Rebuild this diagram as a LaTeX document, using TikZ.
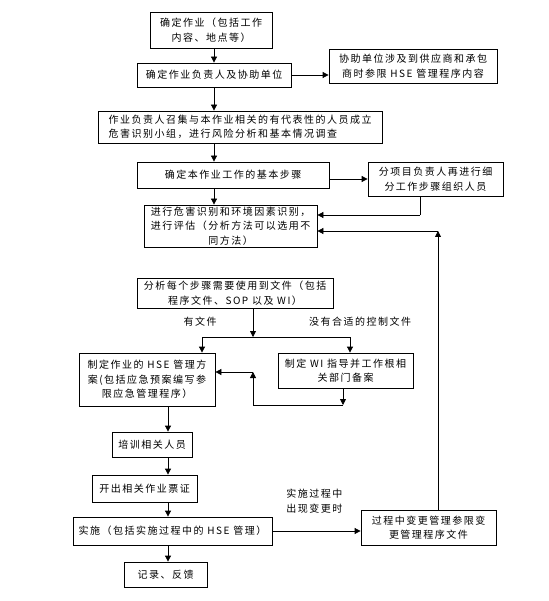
\documentclass[tikz,border=0pt]{standalone}
\usepackage{fontspec}
\setmainfont{Noto Sans CJK SC}[LetterSpace=15]
\usepackage{tikz}
\usetikzlibrary{arrows.meta}

\begin{document}
\begin{tikzpicture}[x=1pt,y=1pt,line width=0.8pt]
\tikzstyle{every node}+=[inner sep=0pt,font=\fontsize{10}{14.5}\selectfont]
\tikzstyle{box}=[draw,black,align=center]
\tikzstyle{arr}=[-{Triangle[width=6pt,length=6pt]}]
\useasboundingbox (0,0) rectangle (548,-601);
\node [box,minimum width=122,minimum height=36] (fix) at (211,-30) {确定作业（包括工作\\内容、地点等）};
\node [box,minimum width=154,minimum height=24] (duty) at (214,-75) {确定作业负责人及协助单位};
\node [box,minimum width=168,minimum height=34] (assist) at (413,-66) {协助单位涉及到供应商和承包\\商时参限 HSE 管理程序内容};
\node [box,align=left,minimum width=284,minimum height=32] (team) at (240,-127) {作业负责人召集与本作业相关的有代表性的人员成立\\危害识别小组，进行风险分析和基本情况调查};
\node [box,minimum width=192,minimum height=26] (steps) at (233,-175) {确定本作业工作的基本步骤};
\node [box,minimum width=135,minimum height=34] (split) at (435.5,-179) {分项目负责人再进行细\\分工作步骤组织人员};
\node [box,minimum width=173,minimum height=42] (hazard) at (230.5,-226) {进行危害识别和环境因素识别，\\进行评估（分析方法可以选用不\\同方法）};
\node [box,minimum width=196,minimum height=30] (docs) at (235,-293) {分析每个步骤需要使用到文件（包括\\程序文件、SOP 以及 WI）};
\node [box,minimum width=136,minimum height=53] (plan) at (147,-379.5) {制定作业的 HSE 管理方\\案(包括应急预案编写参\\限应急管理程序）};
\node [box,minimum width=135,minimum height=35] (wi) at (345.5,-370.5) {制定 WI 指导并工作根相\\关部门备案};
\node [box,minimum width=80,minimum height=25] (train) at (152,-444.5) {培训相关人员};
\node [box,minimum width=105,minimum height=27] (permit) at (144.5,-488.5) {开出相关作业票证};
\node [box,minimum width=199,minimum height=28] (impl) at (172.5,-531) {实施（包括实施过程中的 HSE 管理）};
\node [box,minimum width=83,minimum height=25] (record) at (165.5,-574.5) {记录、反馈};
\node [box,minimum width=135,minimum height=35] (change) at (428.5,-527.5) {过程中变更管理参限变\\更管理程序文件};
\node (yes) at (200,-322) {有文件};
\node (no) at (360,-322) {没有合适的控制文件};
\node [anchor=west,align=left] (when) at (286,-501) {实施过程中\\出现变更时};
\coordinate (up) at (214,0);
\coordinate (low) at (168,0);
\coordinate (fork) at (253,-337);
\coordinate (forkl) at (202,-337);
\coordinate (forkr) at (350,-337);
\coordinate (wiret) at (343,-405);
\coordinate (wiretl) at (253,-405);
\coordinate (wiup) at (253,-372);
\coordinate (splitdn) at (420,-215);
\coordinate (chup) at (438,-231);
\draw [arr] (fix.south -| up) -- (duty.north -| up);
\draw [arr] (duty.east) -- (duty.east -| assist.west);
\draw [arr] (duty.south -| up) -- (team.north -| up);
\draw [arr] (team.south -| up) -- (steps.north -| up);
\draw [arr] (steps.east |- split.west) -- (split.west);
\draw [arr] (steps.south -| up) -- (hazard.north -| up);
\draw (split.south -| splitdn) -- (splitdn);
\draw [arr] (splitdn) -- (splitdn -| hazard.east);
\draw [arr] (change.north -| chup) -- (chup);
\draw [arr] (chup) -- (chup -| hazard.east);
\draw [arr] (docs.south -| fork) -- (fork);
\draw (forkl) -- (forkr);
\draw [arr] (forkl) -- (plan.north -| forkl);
\draw [arr] (forkr) -- (wi.north -| forkr);
\draw [arr] (wi.south -| wiret) -- (wiret);
\draw (wiret) -- (wiretl);
\draw [arr] (wiretl) -- (wiup);
\draw [arr] (wiup) -- (wiup -| plan.east);
\draw [arr] (plan.south -| low) -- (train.north -| low);
\draw [arr] (train.south -| low) -- (permit.north -| low);
\draw [arr] (permit.south -| low) -- (impl.north -| low);
\draw [arr] (impl.south -| low) -- (record.north -| low);
\draw [arr] (impl.east) -- (impl.east -| change.west);
\end{tikzpicture}
\end{document}
